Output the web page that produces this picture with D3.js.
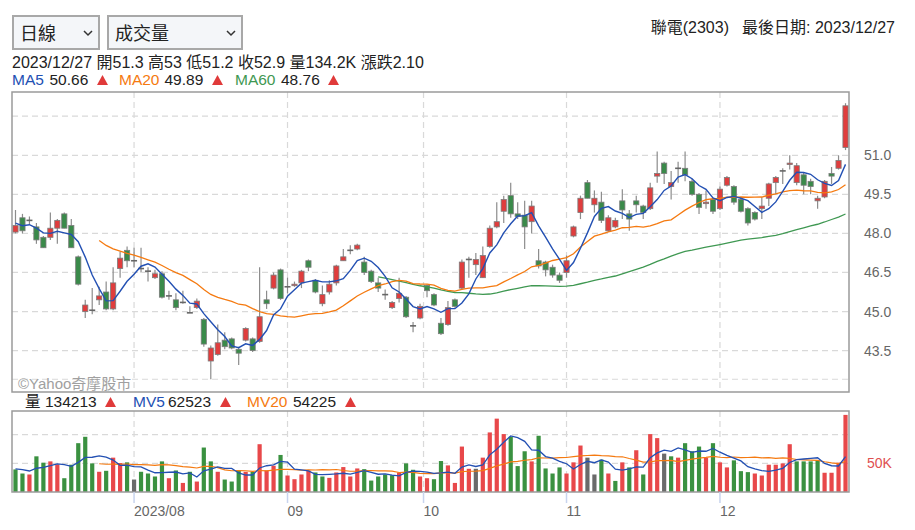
<!DOCTYPE html>
<html><head><meta charset="utf-8">
<script src="https://cdn.jsdelivr.net/npm/d3@7"></script>
<style>
body{margin:0;background:#fff;}
svg{font-family:"Liberation Sans",Arial,"Noto Sans CJK TC",sans-serif;}
</style></head><body><svg id="c" width="915" height="530"></svg>
<script>
// ---------- DATA ----------
const opens  = [48.05,48.6,48.5,48.25,47.85,47.85,48.2,48.75,48.3,47.1,
 45.0,45.05,45.45,45.75,45.1,46.65,47.35,46.95,46.65,46.55,
 46.3,46.45,45.6,45.45,45.35,44.95,45.15,44.7,43.1,43.35,
 43.9,43.95,43.55,43.9,43.95,43.85,45.45,45.9,46.6,45.95,
 46.0,46.1,46.95,46.2,45.3,45.75,46.1,46.95,47.35,47.4,
 46.9,46.55,46.1,45.65,45.15,45.5,45.55,44.45,44.75,46.0,
 45.65,44.55,44.5,45.45,45.9,47.0,46.8,46.3,47.5,48.25,
 48.85,49.45,48.75,48.7,48.45,46.95,46.9,46.7,46.4,46.5,
 47.9,48.8,49.95,49.1,49.2,48.1,48.25,49.25,48.75,49.25,
 49.05,48.95,50.2,50.7,49.8,50.5,50.5,50.0,49.5,49.15,
 49.3,48.95,49.85,49.8,49.3,48.95,48.8,48.95,49.35,49.95,
 50.4,50.65,49.95,50.25,50.0,49.25,49.4,50.3,50.5,51.3];
const highs  = [48.9,48.75,48.65,48.4,47.9,48.8,48.55,48.8,48.55,47.15,
 45.45,45.9,45.95,46.15,46.7,47.3,47.5,47.45,47.45,46.7,
 46.6,46.55,45.8,45.7,45.8,45.2,45.5,44.75,43.7,44.5,
 44.2,44.0,43.65,44.4,44.0,46.7,45.8,46.5,46.65,46.3,
 46.15,46.6,47.0,46.25,46.0,46.2,46.8,47.4,47.55,47.6,
 47.1,46.6,46.3,45.85,45.4,46.3,45.6,44.6,45.3,46.05,
 45.7,44.75,45.4,45.5,47.0,47.1,47.25,47.5,48.3,49.2,
 49.45,49.95,49.2,49.25,49.25,47.4,46.95,46.8,46.5,47.15,
 48.3,49.45,50.05,49.65,49.6,48.7,48.6,49.7,48.9,49.45,
 49.1,49.95,51.15,50.75,50.4,50.75,51.15,50.1,49.55,49.65,
 49.35,49.8,50.2,49.85,49.35,49.0,48.85,49.4,49.95,50.2,
 50.5,51.0,50.7,50.35,50.1,49.45,50.05,50.55,51.0,53.0];
const lows   = [48.0,48.0,48.35,47.6,47.45,47.75,47.6,48.2,47.45,46.0,
 44.75,44.9,45.25,45.05,45.05,46.3,46.7,46.7,46.5,46.15,
 46.25,45.5,45.45,45.05,45.3,44.95,45.1,43.65,42.4,43.3,
 43.55,43.55,42.95,43.85,43.45,43.8,45.1,45.85,45.45,45.7,
 45.95,45.9,46.55,45.7,45.2,45.65,46.0,46.95,47.2,47.35,
 46.4,46.1,45.75,45.45,45.1,45.35,44.75,44.2,44.7,45.55,
 45.2,44.1,44.45,45.15,45.85,46.3,46.4,46.3,47.45,48.2,
 48.4,48.6,48.55,47.4,48.0,46.65,46.35,46.3,46.1,46.3,
 47.85,48.55,49.35,48.8,48.4,48.05,48.2,48.55,48.1,48.8,
 48.55,48.9,49.95,49.9,49.3,49.95,50.0,49.45,48.75,48.95,
 48.75,48.9,49.8,49.1,48.8,48.3,48.5,48.55,49.05,49.5,
 49.9,50.45,49.85,49.5,49.5,48.95,49.35,49.9,50.45,51.2];
const closes = [48.3,48.1,48.5,47.75,47.45,48.2,48.5,48.2,47.45,46.05,
 45.25,45.05,45.6,45.1,46.1,47.05,46.95,46.95,46.65,46.55,
 46.45,45.55,45.6,45.15,45.35,44.95,45.4,43.75,43.6,43.8,
 43.65,43.6,43.4,44.35,43.5,44.8,45.3,46.4,45.5,45.95,
 46.05,46.55,46.7,45.75,45.65,46.05,46.75,47.1,47.35,47.55,
 46.5,46.15,45.9,45.65,45.35,45.7,44.8,44.45,45.2,45.8,
 45.25,44.15,45.15,45.2,46.9,47.0,47.0,47.15,48.2,48.45,
 49.3,48.75,48.65,48.25,49.05,46.75,46.6,46.4,46.2,46.95,
 48.25,49.35,49.35,49.35,48.5,48.6,48.5,48.9,48.55,49.1,
 48.8,49.75,50.3,50.3,49.95,50.5,50.25,49.5,49.0,49.2,
 48.85,49.7,50.15,49.2,48.85,48.4,48.55,49.05,49.9,50.15,
 50.4,50.7,50.6,49.85,49.8,49.35,50.0,50.2,50.8,52.9];
const volumes = [39300,32200,30500,62100,51000,53300,48000,24000,47500,85000,
 96100,49800,35200,36900,59800,50400,51600,21700,35200,32200,
 27000,53300,24000,37500,15800,35200,18200,77400,53300,35200,
 21700,18200,37500,35200,35200,83200,37500,45700,64500,28700,
 22300,30500,37500,34000,27000,24600,34000,43400,27000,41000,
 39800,19900,27000,30500,29300,34000,49800,38700,27000,24000,
 22300,53900,46300,15800,79100,40400,40400,59800,103700,127700,
 100800,96100,45100,70900,53300,97900,41000,32200,42800,32200,
 51600,80900,59800,30500,56300,32200,19300,51600,42800,72700,
 30500,100800,93800,66800,62100,59800,85000,70900,79100,59800,
 85000,51600,42800,55100,36300,34600,32200,28700,47500,47500,
 49800,83200,53300,53300,53300,55000,33500,33500,51000,134213];
// sessions before the visible window (estimated from the MA lines)
const priorCloses  = [48.9,48.8,48.8,48.6,48.3,48.4,48.37];
const priorVolumes = [55000,57000,55300,40000,42000,38000,42700];

const monthLabels  = ["2023/08","09","10","11","12"];
const monthTickIdx = [17,39,58.5,79,101];
const priceGrid    = [52.5,51.0,49.5,48.0,46.5,45.0,43.5];
const priceLabels  = [51.0,49.5,48.0,46.5,45.0,43.5];
const volGrid      = [50000,100000];
const volLabels    = [{v:50000,t:"50K"}];

const infoText  = "2023/12/27 開51.3 高53 低51.2 收52.9 量134.2K 漲跌2.10";
const maLegend  = [{n:"MA5",v:"50.66"},{n:"MA20",v:"49.89"},{n:"MA60",v:"48.76"}];
const mvLegend  = [{n:"量",v:"134213"},{n:"MV5",v:"62523"},{n:"MV20",v:"54225"}];

// ---------- STYLE ----------
const RED="#e03d3d", GREEN="#3a8a4a", GRAY="#6a6a6a";
const VRED="#e8484a", VGREEN="#3a9140";
const C_MA5="#2350b3", C_MA20="#f57a10", C_MA60="#3f9852";

const svg=d3.select("#c");
const L=12, R=849, PT=92, PB=392, VT=411, VB=492;
const N=closes.length;
const x=d3.scaleLinear().domain([-0.5,N-0.5]).range([L,R]);
const y=d3.scaleLinear().domain([41.91,53.43]).range([PB,PT]);
const vy=d3.scaleLinear().domain([0,141000]).range([VB,VT]);

function sma(arr,n,prior){const all=prior.concat(arr);
  return arr.map((_,i)=>{const j=i+prior.length; if(j<n-1) return null; return d3.mean(all.slice(j-n+1,j+1));});}
const ma5=sma(closes,5,priorCloses), ma20=sma(closes,20,priorCloses), ma60=sma(closes,60,priorCloses);
const mv5=sma(volumes,5,priorVolumes), mv20=sma(volumes,20,priorVolumes);

// ---------- top controls ----------
function selectBox(x0,w,label,chevX){
  svg.append("rect").attr("x",x0+1).attr("y",16).attr("width",w-2).attr("height",33)
    .attr("fill","#f4f6f9").attr("stroke","#a8a8a8").attr("stroke-width",2);
  svg.append("text").attr("x",x0+8).attr("y",40).attr("font-size",18).attr("fill","#222").text(label);
  svg.append("path").attr("d",`M${chevX-4},31 L${chevX},35 L${chevX+4},31`).attr("fill","none")
    .attr("stroke","#333").attr("stroke-width",1.5);
}
selectBox(12,88,"日線",88);
selectBox(107,136,"成交量",231);
svg.append("text").attr("x",895).attr("y",33).attr("text-anchor","end").attr("font-size",16).attr("fill","#222").text("最後日期: 2023/12/27");
svg.append("text").attr("x",729).attr("y",33).attr("text-anchor","end").attr("font-size",16).attr("fill","#222").text("聯電(2303)");
svg.append("text").attr("x",12).attr("y",68).attr("font-size",16).attr("fill","#222").text(infoText);

function tri(xl,yb){svg.append("path").attr("d",`M${xl},${yb} L${xl+11},${yb} L${xl+5.5},${yb-10}Z`).attr("fill","#e03a3a");}
const maCols=[C_MA5,C_MA20,C_MA60];
const maPos=[[12,49.5,97],[119,164.5,212],[235,281,328]];
maLegend.forEach((d,k)=>{
  svg.append("text").attr("x",maPos[k][0]).attr("y",85).attr("font-size",15.5).attr("fill",maCols[k]).text(d.n);
  svg.append("text").attr("x",maPos[k][1]).attr("y",85).attr("font-size",15.5).attr("fill","#222").text(d.v);
  tri(maPos[k][2],85);
});
const mvCols=["#222",C_MA5,C_MA20];
const mvPos=[[25,45,105],[133,168,220],[247,293,345]];
mvLegend.forEach((d,k)=>{
  svg.append("text").attr("x",mvPos[k][0]).attr("y",407).attr("font-size",15.5).attr("fill",mvCols[k]).text(d.n);
  svg.append("text").attr("x",mvPos[k][1]).attr("y",407).attr("font-size",15.5).attr("fill","#222").text(d.v);
  tri(mvPos[k][2],407);
});

// ---------- price panel ----------
const gp=svg.append("g");
gp.append("rect").attr("x",L).attr("y",PT).attr("width",R-L).attr("height",PB-PT).attr("fill","#fff");
const gridCol="#d9d9d9";
gp.selectAll(".hg").data(priceGrid.concat([d3.min(lows)])).join("line")
  .attr("x1",L).attr("x2",R).attr("y1",d=>y(d)).attr("y2",d=>y(d))
  .attr("stroke",gridCol).attr("stroke-dasharray","6,4").attr("stroke-width",1.2);
gp.selectAll(".vg").data(monthTickIdx).join("line")
  .attr("x1",d=>x(d)).attr("x2",d=>x(d)).attr("y1",PT).attr("y2",PB)
  .attr("stroke",gridCol).attr("stroke-dasharray","6,4").attr("stroke-width",1.2);
svg.selectAll(".pl").data(priceLabels).join("text")
  .attr("x",864).attr("y",d=>y(d)+5).attr("font-size",14).attr("fill","#666").text(d=>d.toFixed(1));
gp.append("text").attr("x",18).attr("y",389).attr("font-size",15).attr("fill","#a0a0a0").text("©Yahoo奇摩股市");

const idx=d3.range(N);
gp.selectAll(".wick").data(idx).join("line")
  .attr("x1",i=>x(i)).attr("x2",i=>x(i)).attr("y1",i=>y(highs[i])).attr("y2",i=>y(lows[i]))
  .attr("stroke","#8c8c8c").attr("stroke-width",1.2);
const bw=5.2;
gp.selectAll(".body").data(idx.filter(i=>opens[i]!==closes[i])).join("rect")
  .attr("x",i=>x(i)-bw/2).attr("width",bw)
  .attr("y",i=>y(Math.max(opens[i],closes[i])))
  .attr("height",i=>Math.max(1.5,Math.abs(y(opens[i])-y(closes[i]))))
  .attr("fill",i=>closes[i]>opens[i]?RED:GREEN).attr("stroke","#7c7c7c").attr("stroke-width",0.8);
gp.selectAll(".doji").data(idx.filter(i=>opens[i]===closes[i])).join("line")
  .attr("x1",i=>x(i)-3).attr("x2",i=>x(i)+3).attr("y1",i=>y(closes[i])).attr("y2",i=>y(closes[i]))
  .attr("stroke","#666").attr("stroke-width",1.6);

function drawLine(g,data,sc,col,w){
  g.append("path").datum(idx).attr("fill","none").attr("stroke",col).attr("stroke-width",w)
   .attr("d",d3.line().defined(i=>data[i]!=null).x(i=>x(i)).y(i=>sc(data[i])));
}
drawLine(gp,ma60,y,C_MA60,1.3);
drawLine(gp,ma20,y,C_MA20,1.3);
drawLine(gp,ma5,y,C_MA5,1.4);
gp.append("rect").attr("x",L).attr("y",PT).attr("width",R-L).attr("height",PB-PT)
  .attr("fill","none").attr("stroke","#9a9a9a").attr("stroke-width",1.5);

// ---------- volume panel ----------
const gv=svg.append("g");
gv.append("rect").attr("x",L).attr("y",VT).attr("width",R-L).attr("height",VB-VT).attr("fill","#fff");
gv.selectAll(".vhg").data(volGrid).join("line")
  .attr("x1",L).attr("x2",R).attr("y1",d=>vy(d)).attr("y2",d=>vy(d))
  .attr("stroke",gridCol).attr("stroke-dasharray","6,4").attr("stroke-width",1.2);
gv.selectAll(".vvg").data(monthTickIdx).join("line")
  .attr("x1",d=>x(d)).attr("x2",d=>x(d)).attr("y1",VT).attr("y2",VB)
  .attr("stroke",gridCol).attr("stroke-dasharray","6,4").attr("stroke-width",1.2);
gv.selectAll(".vbar").data(idx).join("rect")
  .attr("x",i=>x(i)-2.1).attr("width",4.2)
  .attr("y",i=>vy(volumes[i])).attr("height",i=>vy(0)-vy(volumes[i]))
  .attr("fill",i=>{const pc=i===0?priorCloses[priorCloses.length-1]:closes[i-1];
     return closes[i]>pc?VRED:(closes[i]<pc?VGREEN:GRAY);});
drawLine(gv,mv20,vy,C_MA20,1.2);
drawLine(gv,mv5,vy,C_MA5,1.3);
gv.append("rect").attr("x",L).attr("y",VT).attr("width",R-L).attr("height",VB-VT)
  .attr("fill","none").attr("stroke","#9a9a9a").attr("stroke-width",1.5);
svg.selectAll(".vl").data(volLabels).join("text")
  .attr("x",867).attr("y",d=>vy(d.v)+5).attr("font-size",14).attr("fill","#e05050").text(d=>d.t);

// x axis
svg.selectAll(".xt").data(monthTickIdx).join("line")
  .attr("x1",d=>x(d)).attr("x2",d=>x(d)).attr("y1",VB).attr("y2",VB+11)
  .attr("stroke","#c8d4ee").attr("stroke-width",1.5);
svg.selectAll(".xl").data(monthTickIdx).join("text")
  .attr("x",d=>x(d)).attr("y",516).attr("font-size",14).attr("fill","#666")
  .text((d,k)=>monthLabels[k]);
</script></body></html>
